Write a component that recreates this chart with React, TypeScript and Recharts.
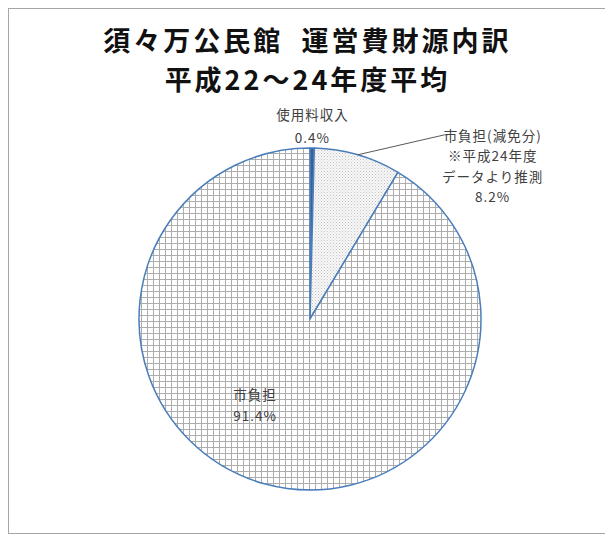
import { Pie, PieChart, Cell } from 'recharts';

const names = ['使用料収入', '市負担(減免分)', '市負担'];
const values = [0.4, 8.2, 91.4];
const labelLines = [
	['使用料収入', '0.4%'],
	['市負担(減免分)', '※平成24年度', 'データより推測', '8.2%'],
	['市負担', '91.4%'],
];
const titleLines = ['須々万公民館  運営費財源内訳', '平成22～24年度平均'];

const fills = ['#3d5f98', 'url(#dots)', 'url(#grid)'];

const W = 597;
const H = 524;
const RAD = Math.PI / 180;

const data = names.map((name, i) => ({ name, value: values[i] }));

const textStyle = {
	fontFamily: '"Noto Sans CJK JP", sans-serif',
	fontSize: 13.5,
	fill: '#404040',
	letterSpacing: 1,
};

function renderLabel(props: any) {
	const { cx, cy, midAngle, outerRadius, index } = props;
	const lines = labelLines[index];
	if (index === 0) {
		const r = outerRadius + 23;
		const x = cx + r * Math.cos(-midAngle * RAD);
		const y = cy + r * Math.sin(-midAngle * RAD);
		return (
			<g>
				{lines.map((t, k) => (
					<text key={k} x={x} y={y + (k - 0.5) * 23} textAnchor='middle' dominantBaseline='central' style={textStyle}>
						{t}
					</text>
				))}
			</g>
		);
	}
	if (index === 1) {
		const sx = cx + outerRadius * Math.cos(-midAngle * RAD);
		const sy = cy + outerRadius * Math.sin(-midAngle * RAD);
		const ex = sx + 87;
		const ey = sy - 20;
		return (
			<g>
				<path d={`M${sx},${sy}L${ex},${ey}L${ex + 3},${ey}`} stroke='#595959' strokeWidth={1} fill='none' />
				{lines.map((t, k) => (
					<text key={k} x={ex + 48} y={ey + k * 20.5} textAnchor='middle' dominantBaseline='central' style={textStyle}>
						{t}
					</text>
				))}
			</g>
		);
	}
	const x = cx - 55;
	const y = cy + 75;
	return (
		<g>
			{lines.map((t, k) => (
				<text key={k} x={x} y={y + k * 21} textAnchor='middle' dominantBaseline='central' style={textStyle}>
					{t}
				</text>
			))}
		</g>
	);
}

export default function App() {
	return (
		<div
			style={{
				position: 'relative',
				width: W,
				height: H,
				border: '1px solid #a6a6a6',
				background: '#fff',
			}}
		>
			<div
				style={{
					position: 'absolute',
					left: 0,
					top: 11,
					width: W,
					textAlign: 'center',
					fontFamily: '"Noto Sans CJK JP", sans-serif',
					fontWeight: 700,
					fontSize: 27,
					letterSpacing: 3,
					lineHeight: '39px',
					color: '#111',
					whiteSpace: 'pre',
				}}
			>
				{titleLines.map(t => (
					<div key={t}>{t}</div>
				))}
			</div>
			<PieChart width={W} height={H} style={{ position: 'absolute', left: 0, top: 0 }}>
				<defs>
					<pattern id='grid' width={6} height={6} patternUnits='userSpaceOnUse'>
						<rect width={6} height={6} fill='#ffffff' />
						<path d='M0,0.5H6M0.5,0V6' stroke='#adadad' strokeWidth={1} />
					</pattern>
					<pattern id='dots' width={3} height={3} patternUnits='userSpaceOnUse'>
						<rect width={3} height={3} fill='#f7f7f7' />
						<rect x={0} y={0} width={1} height={1} fill='#c4c4c4' />
						<rect x={1.5} y={1.5} width={1} height={1} fill='#d4d4d4' />
					</pattern>
				</defs>
				<Pie
					data={data}
					dataKey='value'
					nameKey='name'
					cx={296}
					cy={305}
					outerRadius={171}
					startAngle={90}
					endAngle={-270}
					stroke='#4a7ebb'
					strokeWidth={1.5}
					label={renderLabel}
					labelLine={false}
					isAnimationActive={false}
				>
					{data.map((d, i) => (
						<Cell key={d.name} fill={fills[i]} />
					))}
				</Pie>
			</PieChart>
		</div>
	);
}
